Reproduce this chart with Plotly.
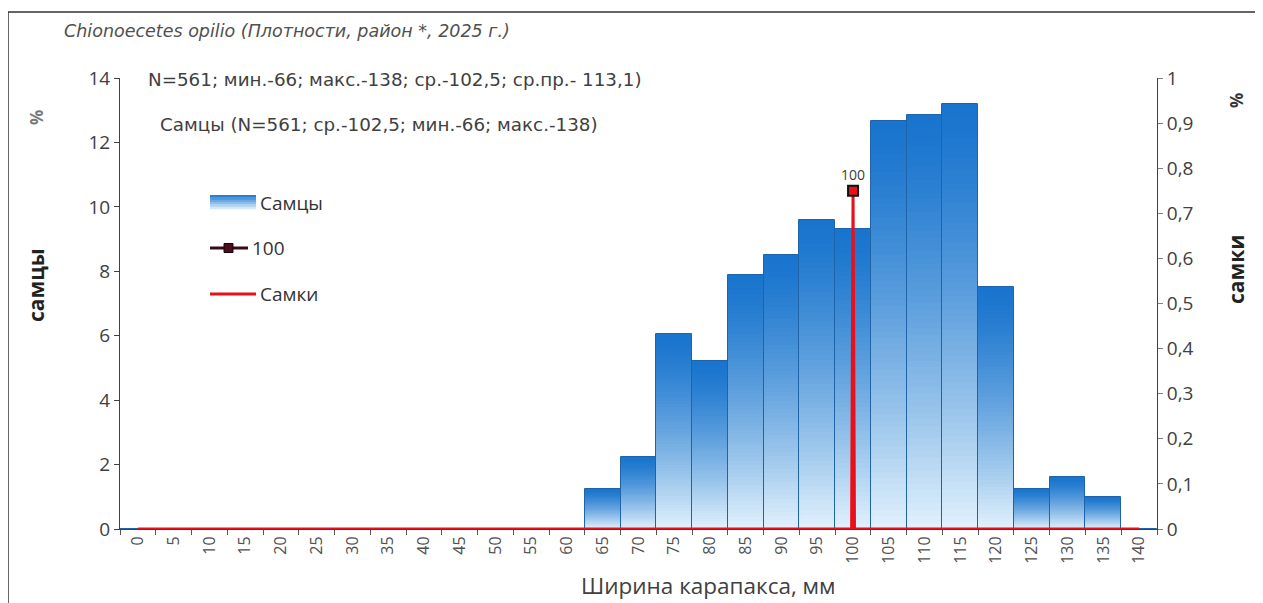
import plotly.graph_objects as go

# ---- data ----
size_classes = list(range(0, 145, 5))            # mm, category centres
tick_labels = [str(v) for v in size_classes]
males_pct = [0, 0, 0, 0, 0, 0, 0, 0, 0, 0, 0, 0, 0,
             1.25, 2.25, 6.05, 5.2, 7.9, 8.5, 9.6, 9.3,
             12.65, 12.85, 13.2, 7.5, 1.25, 1.6, 1.0, 0]
females_x = [0, 99.8, 100, 100.2, 140]
females_y = [0, 0, 0.75, 0, 0]
marker_x = [100]
marker_y = [0.75]
marker_label = ["100"]
legend_names = ["Самцы", "100", "Самки"]

title_txt = "<i>Chionoecetes opilio (Плотности, район *, 2025 г.)</i>"
stat1 = "N=561; мин.-66; макс.-138; ср.-102,5; ср.пр.- 113,1)"
stat2 = "Самцы (N=561; ср.-102,5; мин.-66; макс.-138)"

# page body has an 8px margin -> figure is 8px smaller and shifted
OFF = 8
W, H = 1263 - OFF, 603 - OFF
SL, SR, ST, SB = 120, 1157, 78, 529   # plot area in screen pixels


def px(x):
    return (x - SL) / (SR - SL)


def py(y):
    return (SB - y) / (SB - ST)


FONT = "Open Sans"
TFONT = "DejaVu Sans"
GREY = "#404040"

top = (24, 116, 205)
bot = (226, 242, 252)


def grad(t, p=1.35):
    tt = t ** p
    return "rgb(%d,%d,%d)" % tuple(int(round(top[i] + (bot[i] - top[i]) * tt)) for i in range(3))


fig = go.Figure()

# gradient-filled bars, built by layering
N = 64
for k in range(N):
    frac = 1 - k / N
    fig.add_trace(go.Bar(
        x=size_classes, y=[v * frac for v in males_pct], width=5,
        marker=dict(color=grad((k + 0.5) / N), line=dict(width=0)),
        name=legend_names[0], showlegend=False,
        hoverinfo="skip" if k else None,
    ))
fig.add_trace(go.Bar(
    x=size_classes, y=males_pct, width=5,
    marker=dict(color="rgba(0,0,0,0)", line=dict(width=1, color="#1F63A8")),
    showlegend=False, hoverinfo="skip",
))

fig.add_trace(go.Scatter(
    x=females_x, y=females_y, yaxis="y2", mode="lines", name=legend_names[2],
    line=dict(color="#E8101A", width=3), showlegend=False,
))

fig.add_trace(go.Scatter(
    x=marker_x, y=marker_y, yaxis="y2", mode="markers+text", name=legend_names[1],
    text=marker_label, textposition="top center",
    textfont=dict(family=FONT, size=14, color=GREY),
    marker=dict(symbol="square", size=10, color="#E8101A",
                line=dict(color="#111111", width=2)),
    showlegend=False,
))

ann = []


def A(x, y, text, size, color, family=TFONT, angle=0, xa="left"):
    ann.append(dict(x=px(x), y=py(y), xref="paper", yref="paper", text=text,
                    showarrow=False, xanchor=xa, yanchor="middle", textangle=angle,
                    font=dict(family=family, size=size, color=color)))


A(62, 31, title_txt, 17.5, "#505050")
A(146, 80, stat1, 18.3, GREY)
A(158, 124, stat2, 18.3, GREY)
A(36, 285, "<b>самцы</b>", 21, "#222222", FONT, -90, "center")
A(1236, 270, "<b>самки</b>", 21, "#222222", FONT, -90, "center")
A(36, 118, "<b>%</b>", 17, "#777777", FONT, -90, "center")
A(1236, 101, "<b>%</b>", 17, "#333333", FONT, -90, "center")
A(708, 585, "Ширина карапакса, мм", 22.5, GREY, FONT, 0, "center")

# legend (drawn manually to match the box-style swatches)
A(258, 203, legend_names[0], 19, "#333333", FONT)
A(250, 248, legend_names[1], 19, "#333333", FONT)
A(258, 294, legend_names[2], 19, "#333333", FONT)

shapes = [dict(type="rect", xref="paper", yref="paper",
               x0=px(8), x1=px(1256), y0=py(640), y1=py(12),
               line=dict(color="#333333", width=1.5), fillcolor="rgba(0,0,0,0)",
               layer="below")]

# legend swatches
nb = 6
for i in range(nb):
    y0 = 195 + i * 14 / nb
    shapes.append(dict(type="rect", xref="paper", yref="paper",
                       x0=px(210), x1=px(256), y0=py(y0 + 14 / nb + 0.3), y1=py(y0),
                       line=dict(width=0), fillcolor=grad((i + 0.5) / nb, 1.0)))
shapes.append(dict(type="line", xref="paper", yref="paper",
                   x0=px(210), x1=px(248), y0=py(248), y1=py(248),
                   line=dict(color="#3A0B16", width=3)))
shapes.append(dict(type="rect", xref="paper", yref="paper",
                   x0=px(224), x1=px(233), y0=py(252.5), y1=py(243.5),
                   line=dict(color="#1a0508", width=1), fillcolor="#4A0F1C"))
shapes.append(dict(type="line", xref="paper", yref="paper",
                   x0=px(210), x1=px(256), y0=py(294), y1=py(294),
                   line=dict(color="#E8101A", width=3)))

fig.update_layout(
    width=W, height=H,
    margin=dict(l=SL - OFF, r=W - (SR - OFF), t=ST - OFF, b=H - (SB - OFF), pad=0),
    paper_bgcolor="white", plot_bgcolor="white",
    barmode="overlay", bargap=0,
    separators=", ",
    font=dict(family=FONT, color=GREY),
    showlegend=False,
    xaxis=dict(range=[-2.5, 142.5], tickmode="array", tickvals=size_classes,
               ticktext=tick_labels, tickangle=-90, ticks="", showgrid=False,
               zeroline=False, showline=True, linecolor="#404040", linewidth=1,
               tickfont=dict(family=FONT, size=16, color="#505050"),
               minor=dict(tickmode="linear", tick0=-2.5, dtick=5, ticks="outside",
                          ticklen=5, tickcolor="#555555", showgrid=False)),
    yaxis=dict(range=[0, 14], dtick=2, ticks="outside", ticklen=5, tickcolor="#404040",
               showgrid=False, zeroline=False, showline=True, linecolor="#404040",
               linewidth=1, tickfont=dict(family=FONT, size=19, color=GREY)),
    yaxis2=dict(range=[0, 1], dtick=0.1, overlaying="y", side="right",
                ticks="outside", ticklen=5, tickcolor="#808080", showgrid=False,
                zeroline=False, showline=True, linecolor="#404040", linewidth=1,
                tickfont=dict(family=FONT, size=19, color=GREY)),
    annotations=ann, shapes=shapes,
)

fig.write_html("out.html")
